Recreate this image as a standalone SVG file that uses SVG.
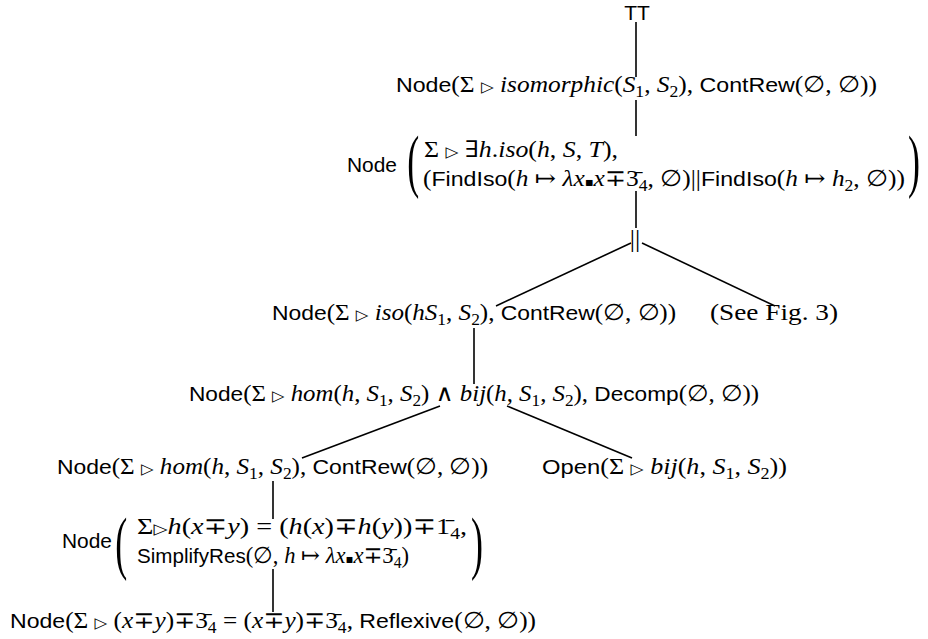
<svg xmlns="http://www.w3.org/2000/svg" width="928" height="639" viewBox="0 0 928 639">
<style>
text { font-family: "Liberation Serif", "DejaVu Serif", serif; font-size: 23px; fill: #000; }
.s { font-family: "Liberation Sans", Arial, sans-serif; font-size: 21px; font-style: normal; }
.i { font-style: italic; }
.b { font-size: 16px; font-style: normal; }
.t { font-family: "DejaVu Sans", sans-serif; font-size: 15px; }
.q { font-family: "DejaVu Sans", sans-serif; font-size: 12px; }
.bp { font-size: 30px; }
#edges line { stroke: #000; stroke-width: 1.6; }
</style>
<rect width="928" height="639" fill="#fff"/>
<g id="edges">
<line x1="636" y1="22" x2="636" y2="77"/>
<line x1="636" y1="100" x2="636" y2="136"/>
<line x1="636" y1="191" x2="636" y2="228"/>
<line x1="631" y1="243" x2="496" y2="306"/>
<line x1="642" y1="243" x2="775" y2="306"/>
<line x1="474" y1="328" x2="474" y2="384"/>
<line x1="440" y1="406" x2="302" y2="458"/>
<line x1="507" y1="406" x2="632" y2="458"/>
<line x1="273" y1="481" x2="273" y2="519"/>
<line x1="273" y1="569" x2="273" y2="612"/>
</g>
<g id="n-root"><text x="637" y="20" text-anchor="middle" class="s">TT</text></g>
<g id="n-iso-top"><text x="396" y="92" textLength="481" lengthAdjust="spacingAndGlyphs"><tspan class="s">Node</tspan>(Σ <tspan class="t">▷</tspan> <tspan class="i">isomorphic</tspan>(<tspan class="i">S</tspan><tspan class="b" dy="5">1</tspan><tspan dy="-5">, </tspan><tspan class="i">S</tspan><tspan class="b" dy="5">2</tspan><tspan dy="-5">), </tspan><tspan class="s">ContRew</tspan>(∅, ∅))</text></g>
<g id="n-exists">
<text x="347" y="172" class="s" textLength="50" lengthAdjust="spacingAndGlyphs">Node</text>
<text class="bp" transform="translate(407.3,183.5) scale(1.2,2.34)">(</text>
<text x="424" y="157" textLength="194" lengthAdjust="spacingAndGlyphs">Σ <tspan class="t">▷</tspan> ∃<tspan class="i">h</tspan>.<tspan class="i">iso</tspan>(<tspan class="i">h</tspan>, <tspan class="i">S</tspan>, <tspan class="i">T</tspan>),</text>
<text x="423" y="186" textLength="482" lengthAdjust="spacingAndGlyphs">(<tspan class="s">FindIso</tspan>(<tspan class="i">h</tspan> ↦ <tspan class="i">λx</tspan><tspan class="q">▪</tspan><tspan class="i">x</tspan>∓3̄<tspan class="b" dy="5">4</tspan><tspan dy="-5">, ∅)||</tspan><tspan class="s">FindIso</tspan>(<tspan class="i">h</tspan> ↦ <tspan class="i">h</tspan><tspan class="b" dy="5">2</tspan><tspan dy="-5">, ∅))</tspan></text>
<text class="bp" transform="translate(908,183.5) scale(1.2,2.34)">)</text>
</g>
<g id="n-par"><text x="635" y="247" text-anchor="middle" style="font-size:26px">||</text></g>
<g id="n-iso"><text x="272" y="320" textLength="404" lengthAdjust="spacingAndGlyphs"><tspan class="s">Node</tspan>(Σ <tspan class="t">▷</tspan> <tspan class="i">iso</tspan>(<tspan class="i">hS</tspan><tspan class="b" dy="5">1</tspan><tspan dy="-5">, </tspan><tspan class="i">S</tspan><tspan class="b" dy="5">2</tspan><tspan dy="-5">), </tspan><tspan class="s">ContRew</tspan>(∅, ∅))</text></g>
<g id="n-seefig"><text x="710" y="320" textLength="128" lengthAdjust="spacingAndGlyphs">(See Fig. 3)</text></g>
<g id="n-decomp"><text x="189" y="401" textLength="570" lengthAdjust="spacingAndGlyphs"><tspan class="s">Node</tspan>(Σ <tspan class="t">▷</tspan> <tspan class="i">hom</tspan>(<tspan class="i">h</tspan>, <tspan class="i">S</tspan><tspan class="b" dy="5">1</tspan><tspan dy="-5">, </tspan><tspan class="i">S</tspan><tspan class="b" dy="5">2</tspan><tspan dy="-5">) ∧ </tspan><tspan class="i">bij</tspan>(<tspan class="i">h</tspan>, <tspan class="i">S</tspan><tspan class="b" dy="5">1</tspan><tspan dy="-5">, </tspan><tspan class="i">S</tspan><tspan class="b" dy="5">2</tspan><tspan dy="-5">), </tspan><tspan class="s">Decomp</tspan>(∅, ∅))</text></g>
<g id="n-hom"><text x="57" y="474" textLength="431" lengthAdjust="spacingAndGlyphs"><tspan class="s">Node</tspan>(Σ <tspan class="t">▷</tspan> <tspan class="i">hom</tspan>(<tspan class="i">h</tspan>, <tspan class="i">S</tspan><tspan class="b" dy="5">1</tspan><tspan dy="-5">, </tspan><tspan class="i">S</tspan><tspan class="b" dy="5">2</tspan><tspan dy="-5">), </tspan><tspan class="s">ContRew</tspan>(∅, ∅))</text></g>
<g id="n-open"><text x="542" y="474" textLength="245" lengthAdjust="spacingAndGlyphs"><tspan class="s">Open</tspan>(Σ <tspan class="t">▷</tspan> <tspan class="i">bij</tspan>(<tspan class="i">h</tspan>, <tspan class="i">S</tspan><tspan class="b" dy="5">1</tspan><tspan dy="-5">, </tspan><tspan class="i">S</tspan><tspan class="b" dy="5">2</tspan><tspan dy="-5">))</tspan></text></g>
<g id="n-simplify">
<text x="62" y="548" class="s" textLength="50" lengthAdjust="spacingAndGlyphs">Node</text>
<text class="bp" transform="translate(115.3,565.5) scale(1.2,2.34)">(</text>
<text x="137" y="534" textLength="330" lengthAdjust="spacingAndGlyphs">Σ<tspan class="t">▷</tspan><tspan class="i">h</tspan>(<tspan class="i">x</tspan>∓<tspan class="i">y</tspan>) = (<tspan class="i">h</tspan>(<tspan class="i">x</tspan>)∓<tspan class="i">h</tspan>(<tspan class="i">y</tspan>))∓1̄<tspan class="b" dy="5">4</tspan><tspan dy="-5">,</tspan></text>
<text x="137" y="563" textLength="272" lengthAdjust="spacingAndGlyphs"><tspan class="s">SimplifyRes</tspan>(∅, <tspan class="i">h</tspan> ↦ <tspan class="i">λx</tspan><tspan class="q">▪</tspan><tspan class="i">x</tspan>∓3̄<tspan class="b" dy="5">4</tspan><tspan dy="-5">)</tspan></text>
<text class="bp" transform="translate(471,565.5) scale(1.2,2.34)">)</text>
</g>
<g id="n-reflexive"><text x="10" y="628" textLength="526" lengthAdjust="spacingAndGlyphs"><tspan class="s">Node</tspan>(Σ <tspan class="t">▷</tspan> (<tspan class="i">x</tspan>∓<tspan class="i">y</tspan>)∓3̄<tspan class="b" dy="5">4</tspan><tspan dy="-5"> = (</tspan><tspan class="i">x</tspan>∓<tspan class="i">y</tspan>)∓3̄<tspan class="b" dy="5">4</tspan><tspan dy="-5">, </tspan><tspan class="s">Reflexive</tspan>(∅, ∅))</text></g>
</svg>
